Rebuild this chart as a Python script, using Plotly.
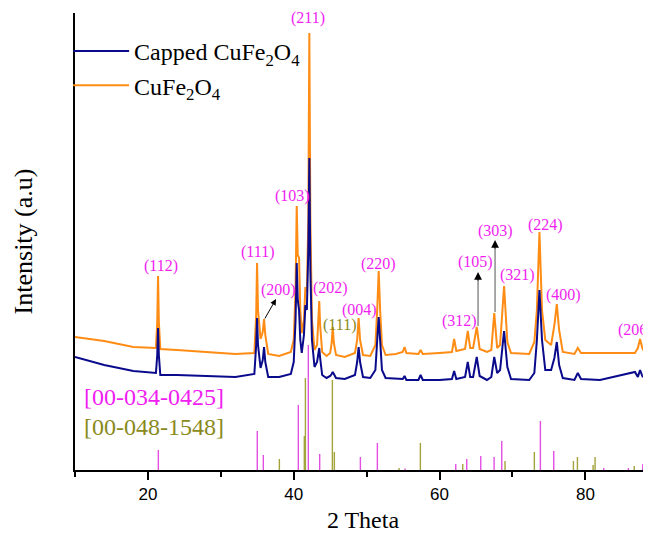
import plotly.graph_objects as go

# ---- digitised XRD patterns (2θ in degrees, intensity in a.u.) ----
two_theta = [10, 14, 18, 21.1, 21.28, 21.39, 21.5, 21.7, 24, 28, 32, 34.6, 34.85, 34.97, 35.1, 35.45,
             35.75, 35.93, 36.1, 36.5, 38, 39.6, 40.0, 40.25, 40.41, 40.55, 40.73, 40.9, 41.1, 41.4,
             41.6, 41.8, 42.0, 42.14, 42.28, 42.5, 42.85, 43.2, 43.4, 43.5, 43.62, 43.9, 44.5, 45.0,
             45.2, 45.35, 45.5, 45.8, 47, 48.4, 48.7, 48.9, 49.1, 49.5, 50.5, 51.2, 51.45, 51.65,
             51.85, 52.1, 52.6, 54, 54.95, 55.2, 55.45, 57.1, 57.4, 57.7, 60, 61.7, 62.0, 62.3, 63.5,
             63.87, 64.2, 64.6, 65.1, 65.5, 66.5, 67.1, 67.5, 67.9, 68.3, 68.85, 69.3, 69.8, 72.3,
             73.0, 73.35, 73.7, 74.05, 74.5, 75.3, 75.75, 76.08, 76.4, 76.9, 78.5, 78.96, 79.4, 82,
             86.8, 87.2, 87.5, 87.8, 88.3, 89]

intensity_cufe2o4 = [133, 129, 123, 122, 148, 194, 148, 121, 120, 118, 116, 117, 155, 207, 160, 131,
                     138, 151, 135, 116, 114, 118, 130, 180, 264, 215, 212, 160, 137, 150,
                     183, 178, 250, 437, 250, 150, 120, 125, 150, 169, 145, 118, 114, 117,
                     127, 143, 127, 115, 113, 117, 130, 152, 130, 115, 114, 125, 160, 199,
                     160, 125, 115, 116, 118, 123, 117, 116, 120, 116, 117, 118, 131, 119, 121,
                     139, 122, 122, 143, 121, 118, 120, 157, 122, 125, 184, 128, 117, 116,
                     128, 160, 238, 160, 130, 125, 145, 166, 140, 118, 116, 122, 117, 117,
                     117, 122, 131, 122, 115, 117]

intensity_capped = [113, 105, 99, 97, 115, 142, 115, 95, 95, 94, 93, 96, 125, 152, 125, 102,
                    110, 123, 108, 93, 93, 96, 108, 150, 207, 170, 160, 130, 117, 135,
                    165, 160, 220, 312, 200, 130, 103, 108, 115, 122, 112, 95, 92, 94,
                    96, 98, 96, 92, 91, 95, 108, 123, 108, 93, 92, 100, 130, 153,
                    130, 100, 92, 91, 91, 94, 90, 90, 95, 90, 90, 91, 99, 91, 93,
                    108, 93, 93, 113, 94, 90, 93, 113, 97, 100, 139, 103, 91, 90,
                    97, 130, 180, 130, 100, 100, 112, 128, 105, 92, 90, 97, 91, 90,
                    98, 93, 100, 94, 91, 92]

# ---- reference patterns (stick positions / relative heights) ----
ref_0340425_pos = [21.43, 35.0, 35.83, 40.63, 42.0, 43.56, 49.14, 51.47, 55.27, 62.22, 63.73, 65.65,
                   67.48, 68.53, 73.83, 75.66, 82.52, 85.9, 87.87]
ref_0340425_int = [20, 39, 15, 65, 125, 16, 13, 27, 1.5, 6, 11, 14, 13, 29, 49, 19, 2, 2, 6]

ref_0481548_pos = [38.03, 41.45, 41.6, 45.3, 45.57, 54.44, 57.37, 63.18, 68.98, 73.0, 78.36, 78.91,
                   81.06, 81.33, 86.7, 88.05]
ref_0481548_int = [11, 34, 92, 90, 18, 2, 27, 6, 9, 18, 9, 13, 5, 13, 4, 4]

# ---- peak labels ----
hkl_text = ["(112)", "(111)", "(200)", "(103)", "(211)", "(202)", "(111)", "(004)", "(220)",
            "(312)", "(105)", "(303)", "(321)", "(224)", "(400)", "(206)"]

MAGENTA = "#f01ef0"
OLIVE = "#8a8a1c"
ORANGE = "#ff8c14"
NAVY = "#0a0a8c"
SERIF = "Liberation Serif"


def to_x(px):
    return 10 + (px - 75) / 7.29


def to_y(py):
    return 470 - py


fig = go.Figure()


def sticks(pos, hts):
    xs, ys = [], []
    for p, h in zip(pos, hts):
        xs += [p, p, None]
        ys += [0, h, None]
    return xs, ys


sx, sy = sticks(ref_0340425_pos, ref_0340425_int)
fig.add_trace(go.Scatter(x=sx, y=sy, mode="lines", line=dict(color="#e34fe3", width=1.4),
                         showlegend=False, hoverinfo="skip"))
sx, sy = sticks(ref_0481548_pos, ref_0481548_int)
fig.add_trace(go.Scatter(x=sx, y=sy, mode="lines", line=dict(color="#a3a33c", width=1.4),
                         showlegend=False, hoverinfo="skip"))

fig.add_trace(go.Scatter(x=two_theta, y=intensity_cufe2o4, mode="lines",
                         name="CuFe<sub>2</sub>O<sub>4</sub>",
                         line=dict(color=ORANGE, width=2)))
fig.add_trace(go.Scatter(x=two_theta, y=intensity_capped, mode="lines",
                         name="Capped CuFe<sub>2</sub>O<sub>4</sub>",
                         line=dict(color=NAVY, width=2)))

# label placement (pixel centres)
label_px = [(161, 266), (257, 252), (278, 290), (292, 196), (308, 18), (330, 288), (339, 325),
            (359, 310), (378, 264), (459, 321), (475, 262), (495, 231), (517, 275), (545, 225),
            (563, 295), (616, 330)]
annotations = []
for i, (t, (px, py)) in enumerate(zip(hkl_text, label_px)):
    color = OLIVE if i == 6 else MAGENTA
    xanchor = "left" if t == "(206)" else "center"
    annotations.append(dict(x=to_x(px), y=to_y(py), xref="x", yref="y", text=t, showarrow=False,
                            font=dict(family=SERIF, size=16, color=color), xanchor=xanchor,
                            yanchor="middle"))

annotations.append(dict(x=to_x(82), y=to_y(397), xref="x", yref="y", text="[00-034-0425]",
                        showarrow=False, xanchor="left", yanchor="middle",
                        font=dict(family=SERIF, size=24, color=MAGENTA)))
annotations.append(dict(x=to_x(82), y=to_y(427), xref="x", yref="y", text="[00-048-1548]",
                        showarrow=False, xanchor="left", yanchor="middle",
                        font=dict(family=SERIF, size=24, color=OLIVE)))

# arrows
annotations.append(dict(x=to_x(276), y=to_y(299), ax=to_x(264), ay=to_y(320), xref="x", yref="y",
                        axref="x", ayref="y", text="", showarrow=True, arrowhead=2, arrowsize=1.2,
                        arrowwidth=1, arrowcolor="black"))
shapes = []
for px, y0, y1 in [(478, 326, 280), (495, 312, 248)]:
    shapes.append(dict(type="line", xref="x", yref="y", x0=to_x(px), x1=to_x(px), y0=to_y(y0),
                       y1=to_y(y1), line=dict(color="#8c8c8c", width=1.5)))
    annotations.append(dict(x=to_x(px), y=to_y(y1 - 8), ax=to_x(px), ay=to_y(y1 + 2), xref="x",
                            yref="y", axref="x", ayref="y", text="", showarrow=True, arrowhead=2,
                            arrowsize=1.3, arrowwidth=1.2, arrowcolor="black"))

# the page adds an 8px body margin, so the figure is sized to fit inside the window
fig.update_layout(
    width=643, height=525,
    margin=dict(l=67, r=0, t=5, b=63),
    plot_bgcolor="white", paper_bgcolor="white",
    annotations=annotations, shapes=shapes,
    legend=dict(x=-0.012, y=0.965, xanchor="left", yanchor="top", traceorder="reversed",
                font=dict(family=SERIF, size=24, color="black"), bgcolor="rgba(0,0,0,0)",
                itemwidth=56, tracegroupgap=0),
    xaxis=dict(range=[10, 89], tick0=0, dtick=20, ticks="outside", ticklen=8, tickwidth=1.5,
               tickcolor="black", showline=True, linecolor="black", linewidth=1.6,
               showgrid=False, zeroline=False, automargin=False,
               tickfont=dict(family="Liberation Sans", size=17, color="black"),
               minor=dict(dtick=10, ticks="outside", ticklen=5, tickwidth=1.5, tickcolor="black"),
               title=dict(text="2 Theta", font=dict(family=SERIF, size=24, color="black"),
                          standoff=10)),
    yaxis=dict(range=[0, 457], showticklabels=False, ticks="", showline=True, linecolor="black",
               linewidth=1.6, showgrid=False, zeroline=False, automargin=False,
               title=dict(text="Intensity (a.u)", font=dict(family=SERIF, size=26, color="black"),
                          standoff=33)),
)

fig.write_html("out.html")
